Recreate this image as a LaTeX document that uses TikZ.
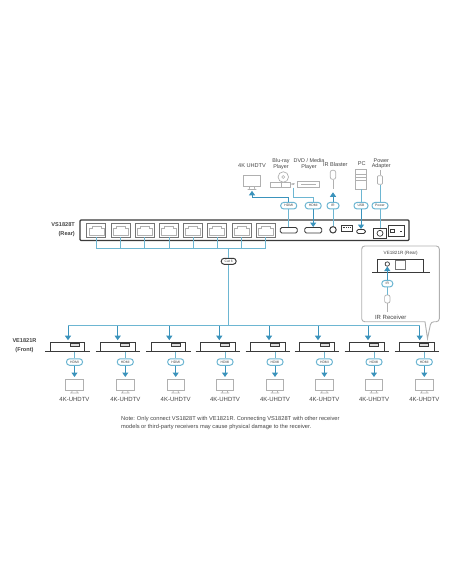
\documentclass[tikz,border=0pt]{standalone}
\usepackage{fontspec}
\setmainfont{Liberation Sans}
\usetikzlibrary{arrows.meta}
\definecolor{cbl}{HTML}{6DB6D2}
\definecolor{cbd}{HTML}{3A93BC}
\definecolor{cdk}{HTML}{3A3A3A}
\definecolor{cgr}{HTML}{B0B0B0}
\definecolor{ctx}{HTML}{444444}
\tikzset{
 wire/.style={draw=cbl,line width=1pt},
 arrw/.style={draw=cbd,line width=1pt,-{Triangle[width=6pt,length=4.5pt,fill=cbd]}},
 pill/.style={draw=cbl,line width=1pt,fill=white,rounded corners=3pt,inner sep=0pt,minimum height=6.5pt,font=\fontsize{3.4}{4}\selectfont,text=ctx},
 catpill/.style={pill,draw=cdk,fill=white,minimum height=6pt,minimum width=15pt},
 lbl/.style={font=\fontsize{5.6}{6.1}\selectfont,text=ctx,align=center,inner sep=0pt},
 tvlbl/.style={font=\fontsize{6}{7}\selectfont,text=ctx,inner sep=0pt},
 bold/.style={font=\fontsize{5.6}{9.3}\bfseries\selectfont,text=ctx,inner sep=0pt},
 rj/.style={draw=cdk!70,line width=0.8pt,fill=white,minimum width=19pt,minimum height=14pt,inner sep=0pt},
 hdmi/.style={draw=cdk,line width=0.9pt,fill=white,minimum width=17pt,minimum height=5.5pt,inner sep=0pt,rounded corners=1.5pt},
 dev/.style={draw=cgr,line width=0.7pt,fill=white,inner sep=0pt},
 chassis/.style={draw=cdk,line width=0.9pt,inner sep=0pt},
}
\begin{document}
\begin{tikzpicture}[x=1pt,y=-1pt]
\useasboundingbox[fill=white] (0,0) rectangle (452,584);
% main chassis
\node[draw=cdk,line width=1.3pt,rounded corners=1pt,minimum width=329pt,minimum height=20.5pt,inner sep=0pt] (main) at (244.5,230.2) {};
\node[bold,align=right,anchor=east] (vslabel) at (75,229.6) {VS1828T\\(Rear)};
% RJ45 ports
\foreach \i/\x in {1/96.3,2/120.6,3/144.9,4/169.2,5/193.2,6/217.2,7/241.6,8/265.8}{
  \node[rj] (rj\i) at (\x,230) {};
  \draw[draw=cgr,line width=0.6pt] (\x-7.5,228) -- (\x-4.5,228) -- (\x-4.5,226.2) -- (\x+4.5,226.2) -- (\x+4.5,228) -- (\x+7.5,228) -- (\x+7.5,235) -- (\x-7.5,235) -- cycle;
  \coordinate (cb\i) at (\x,248);
  \draw[wire] (rj\i.south) -- (cb\i);
}
\draw[wire] (cb1) -- (cb8);
% trunk
\coordinate (tr) at (228.7,248);
\coordinate (bj) at (228.7,325.7);
\node[catpill] (cat) at (228.7,261.3) {Cat 6};
\draw[wire] (tr) -- (cat.north);
\draw[wire] (cat.south) -- (bj);
% receivers
\foreach \i/\x/\d in {1/74.5/68,2/125.3/117.7,3/175.7/169.3,4/225/219.3,5/275/269,6/324.4/318,7/374/368,8/424.3/419.7}{
  \draw[chassis] (\x-24.5,351.7) -- (\x-24.5,342.3) -- (\x+10,342.3) -- (\x+10,351.7);
  \draw[chassis] (\x-29.5,351.7) -- (\x+15,351.7);
  \node[draw=cdk,line width=0.7pt,fill=cgr!40,minimum width=9pt,minimum height=3.4pt,inner sep=0pt] (rp\i) at (\x,345) {};
  \coordinate (rb\i) at (\x,351.7);
  \node[pill,minimum width=16pt] (rh\i) at (\x,362) {HDMI};
  \node[dev,minimum width=17.5pt,minimum height=11.5pt] (tv\i) at (\x,385) {};
  \coordinate (rt\i) at (\x,377);
  \draw[cgr,line width=0.7pt] (\x-2.3,390.7) -- (\x-2.9,392.8) (\x+2.3,390.7) -- (\x+2.9,392.8) (\x-4.3,392.9) -- (\x+4.3,392.9);
  \node[tvlbl] (tl\i) at (\x,399.4) {4K-UHDTV};
  \draw[wire] (rb\i) -- (rh\i.north);
  \draw[arrw] (rh\i.south) -- (rt\i);
  \coordinate (b\i) at (\d,325.7);
  \coordinate (bt\i) at (\d,340.2);
  \draw[arrw] (b\i) -- (bt\i);
}
\draw[wire] (b1) -- (b8);
\node[bold,align=center] (velabel) at (24.5,345.5) {VE1821R\\(Front)};
% callout
\path[draw=cgr,line width=0.9pt,fill=white,rounded corners=3pt] (361.7,246) -- (439.3,246) -- (439.3,321.7) -- (431,321.7) [sharp corners] -- (427.5,338.5) -- (425,321.7) [rounded corners=3pt] -- (361.7,321.7) -- cycle;
\node[lbl,font=\fontsize{4.6}{5}\selectfont] (crear) at (400.7,253.2) {VE1821R (Rear)};
\draw[chassis] (377.7,272.3) -- (377.7,259.6) -- (423.3,259.6) -- (423.3,272.3);
\draw[chassis] (372,272.3) -- (430,272.3);
\node[circle,draw=cdk,line width=0.7pt,minimum size=4.4pt,inner sep=0pt] (cjack) at (387.3,264) {};
\node[rj,minimum width=10.5pt,minimum height=9.3pt,line width=0.6pt] (crj) at (400.4,264.7) {};
\node[pill,minimum width=11pt] (cir) at (387.3,283.7) {IR};
\node[dev,rounded corners=2pt,minimum width=5.4pt,minimum height=8pt] (crx) at (387.3,299) {};
\coordinate (crt) at (387.3,311.5);
\draw[cgr,line width=0.7pt] (crx.south) -- (crt);
\draw[wire] (crx.north) -- (cir.south);
\draw[arrw] (cir.north) -- (cjack.south);
\node[tvlbl,font=\fontsize{6}{7}\selectfont] (crl) at (390.7,317) {IR Receiver};
% rear ports
\node[hdmi] (h1) at (288.7,230.2) {};
\node[hdmi] (h2) at (313.2,230.2) {};
\node[circle,draw=cdk,line width=1pt,fill=white,minimum size=6.4pt,inner sep=0pt] (jack) at (333,229.8) {};
\node[draw=cdk,line width=0.9pt,fill=white,minimum width=11.5pt,minimum height=6pt,inner sep=0pt] (usba) at (346.7,228.4) {};
\draw[cdk,line width=0.6pt,dash pattern=on 1pt off 0.8pt] (342.5,227.6) -- (351,227.6);
\node[hdmi,minimum width=8.6pt,minimum height=4pt] (usbm) at (361,231.5) {};
\node[draw=cdk,line width=0.8pt,fill=white,minimum width=13pt,minimum height=10pt,inner sep=0pt] (pwr) at (380,233.3) {};
\node[circle,draw=cdk,line width=0.7pt,minimum size=6pt,inner sep=0pt] at (pwr) {};
\node[draw=cdk,line width=0.8pt,fill=white,minimum width=15.5pt,minimum height=11pt,inner sep=0pt] (swt) at (396.2,231.2) {};
\node[draw=cdk,line width=0.5pt,minimum width=4pt,minimum height=3pt,inner sep=0pt] at (392.5,231.2) {};
\fill[cdk] (399.5,230.5) rectangle (401.5,232);
% top devices
\node[lbl] (l1) at (252,165.7) {4K UHDTV};
\node[dev,minimum width=17.5pt,minimum height=11pt] (ttv) at (252,181.2) {};
\coordinate (ttt) at (252,190.8);
\draw[cgr,line width=0.7pt] (249.7,186.7) -- (249.2,189.3) (254.3,186.7) -- (254.8,189.3) (247.7,189.5) -- (256.3,189.5);
\node[lbl,font=\fontsize{5.4}{5.4}\selectfont] (l2) at (281,164.2) {Blu-ray\\Player};
\node[dev,minimum width=20pt,minimum height=5.6pt] (bd) at (280,184.8) {};
\draw[cgr,line width=0.5pt] (281,182) -- (281,187.6);
\node[circle,dev,minimum size=10.5pt] (disc) at (283.3,177) {};
\node[circle,draw=cgr,line width=0.5pt,minimum size=3pt,inner sep=0pt] at (disc) {};
\node[lbl,font=\fontsize{5.4}{5.4}\selectfont] (l3) at (309,164.2) {DVD / Media\\Player};
\node[dev,minimum width=22pt,minimum height=5.6pt] (dvd) at (308.3,184.6) {};
\draw[cgr,line width=0.5pt] (301,184.6) -- (316,184.6);
\node[lbl,font=\fontsize{3.6}{4}\selectfont] (orl) at (293.3,184.6) {or};
\node[lbl] (l4) at (335.3,164) {IR Blaster};
\node[dev,rounded corners=2pt,minimum width=5.4pt,minimum height=9pt] (bl) at (333,174.8) {};
\coordinate (blt) at (333,189);
\coordinate (bla) at (333,192.3);
\draw[cgr,line width=0.7pt] (bl.south) -- (blt);
\node[lbl] (l5) at (361.7,164) {PC};
\node[dev,minimum width=10.4pt,minimum height=19.6pt] (pc) at (361,179.2) {};
\draw[cgr,line width=0.5pt] (355.8,174) -- (366.2,174) (355.8,177) -- (366.2,177) (355.8,180) -- (366.2,180);
\node[lbl,font=\fontsize{5.4}{5.4}\selectfont] (l6) at (381.3,163.9) {Power\\Adapter};
\node[dev,rounded corners=1pt,minimum width=5pt,minimum height=8.6pt] (ad) at (380,180) {};
\coordinate (adt) at (380,170);
\draw[cgr,line width=0.7pt] (adt) -- (ad.north);
% pills on top row
\node[pill,minimum width=16pt] (p1) at (288.7,205.7) {HDMI};
\node[pill,minimum width=16pt] (p2) at (313.2,205.7) {HDMI};
\node[pill,minimum width=12pt] (p3) at (333,205.7) {IR};
\node[pill,minimum width=14pt] (p4) at (361,205.7) {USB};
\node[pill,minimum width=16pt] (p5) at (380,205.7) {Power};
% top connectors
\draw[arrw] (p1.north) |- (252,197.2) -- (ttt);
\draw[wire] (h1.north) -- (p1.south);
\coordinate (or1) at (293.3,187.6);
\draw[wire] (or1) -- (293.3,197.3) -| (p2.north);
\draw[arrw] (p2.south) -- (h2.north);
\draw[wire] (jack.north) -- (p3.south);
\draw[arrw] (p3.north) -- (bla);
\draw[wire] (pc.south) -- (p4.north);
\draw[arrw] (p4.south) -- (usbm.north);
\draw[wire] (ad.south) -- (p5.north);
\draw[wire] (p5.south) -- (pwr.north);
% note
\node[font=\fontsize{5.72}{8.3}\selectfont,text=ctx,align=left,anchor=north west,inner sep=0pt] (note) at (121,416.2) {Note: Only connect VS1828T with VE1821R. Connecting VS1828T with other receiver\\models or third-party receivers may cause physical damage to the receiver.};
\end{tikzpicture}
\end{document}
